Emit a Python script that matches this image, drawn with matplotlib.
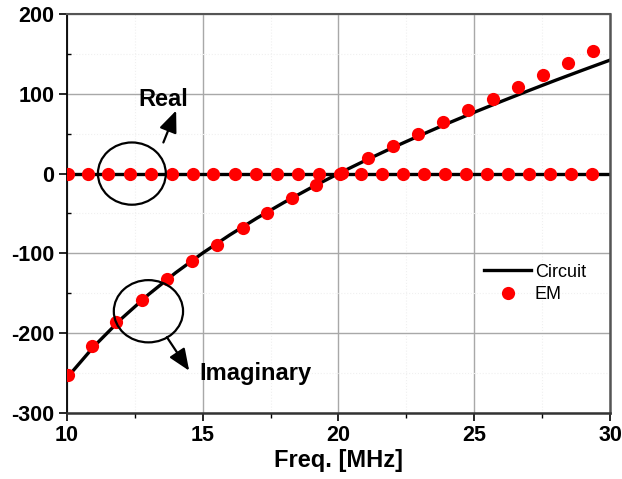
import matplotlib
matplotlib.use("Agg")
import matplotlib.pyplot as plt
from matplotlib.patches import Ellipse
from matplotlib.ticker import MultipleLocator

plt.rcParams['font.family'] = ['Liberation Sans', 'DejaVu Sans']
plt.rcParams['axes.unicode_minus'] = False

# Circuit model (line) values
circ_freq = [10, 11, 12, 13, 14, 15, 16, 17, 18, 19, 20, 21, 22, 23, 24, 25, 26, 27, 28, 29, 30]
circ_imag = [-255.9, -216.3, -182.0, -151.6, -124.3, -99.5, -76.8, -55.7, -36.0, -17.5, 0.0,
             16.6, 32.6, 47.8, 62.6, 76.8, 90.5, 103.9, 117.0, 129.7, 142.2]
circ_real = [0.0] * len(circ_freq)

# EM simulation points
em_real_freq = [10.04, 10.77, 11.51, 12.32, 13.09, 13.87, 14.64, 15.38, 16.19, 16.96, 17.74,
                18.51, 19.28, 20.06, 20.83, 21.60, 22.38, 23.15, 23.92, 24.70, 25.47, 26.24,
                27.02, 27.79, 28.56, 29.34]
em_real = [0.0] * len(em_real_freq)
em_imag_freq = [10.04, 10.92, 11.80, 12.76, 13.68, 14.60, 15.52, 16.48, 17.37, 18.29, 19.17,
                20.13, 21.08, 22.00, 22.93, 23.85, 24.77, 25.69, 26.61, 27.53, 28.45, 29.37]
em_imag = [-252, -216, -186, -158, -132, -109, -89, -68, -49, -31, -14,
           1, 19, 34, 50, 65, 80, 94, 109, 123, 139, 153]

fig = plt.figure(figsize=(6.22, 4.79), dpi=100)
ax = fig.add_axes([0.1077, 0.1378, 0.873, 0.833])

ax.plot(circ_freq, circ_real, color='black', lw=2.4, zorder=2, label='Circuit')
ax.plot(circ_freq, circ_imag, color='black', lw=2.4, zorder=2)
ax.plot(em_real_freq, em_real, 'o', color='#ff0000', ms=9.5, mec='none', zorder=3, label='EM')
ax.plot(em_imag_freq, em_imag, 'o', color='#ff0000', ms=9.5, mec='none', zorder=3)

ax.set_xlim(10, 30)
ax.set_ylim(-300, 200)
ax.xaxis.set_major_locator(MultipleLocator(5))
ax.xaxis.set_minor_locator(MultipleLocator(2.5))
ax.yaxis.set_major_locator(MultipleLocator(100))
ax.yaxis.set_minor_locator(MultipleLocator(50))
ax.grid(which='major', color='#a8a8a8', lw=1.0)
ax.grid(which='minor', color='#f0f0f0', lw=0.8, ls=':')
ax.set_axisbelow(True)

ax.tick_params(axis='both', which='major', direction='out', length=6, width=1.2,
               labelsize=15.5, pad=3)
ax.tick_params(axis='y', which='minor', direction='in', length=3, width=1)
ax.tick_params(axis='x', which='minor', direction='out', length=3.5, width=1)
for lab in ax.get_xticklabels() + ax.get_yticklabels():
    lab.set_fontweight('bold')

ax.spines['left'].set_color('black')
ax.spines['left'].set_linewidth(1.3)
ax.spines['bottom'].set_color('#333333')
ax.spines['bottom'].set_linewidth(1.8)
ax.spines['top'].set_color('#555555')
ax.spines['top'].set_linewidth(1.5)
ax.spines['right'].set_color('#555555')
ax.spines['right'].set_linewidth(1.8)

ax.set_xlabel('Freq. [MHz]', fontsize=17, fontweight='bold', labelpad=2)

# Annotations
arrow_kw = dict(arrowstyle='-|>,head_length=0.6,head_width=0.25', color='black', lw=1.6,
                mutation_scale=22, shrinkA=0, shrinkB=0)
ax.add_patch(Ellipse((12.39, 0), 2.5, 78, fill=False, ec='black', lw=1.6, zorder=4))
ax.annotate('', xy=(14.02, 79), xytext=(13.55, 39), arrowprops=arrow_kw, zorder=4)
ax.text(13.55, 93, 'Real', fontsize=17, fontweight='bold', ha='center', va='center')

ax.add_patch(Ellipse((13.0, -172.5), 2.55, 78, fill=False, ec='black', lw=1.6, zorder=4))
ax.annotate('', xy=(14.5, -247), xytext=(13.68, -205), arrowprops=arrow_kw, zorder=4)
ax.text(14.86, -251, 'Imaginary', fontsize=17, fontweight='bold', ha='left', va='center')

leg = ax.legend(loc='center left', bbox_to_anchor=(0.752, 0.325), frameon=False,
                fontsize=13, handlelength=2.6, handletextpad=0.2, borderpad=0,
                labelspacing=0.3)

fig.savefig('out.png', dpi=100)
